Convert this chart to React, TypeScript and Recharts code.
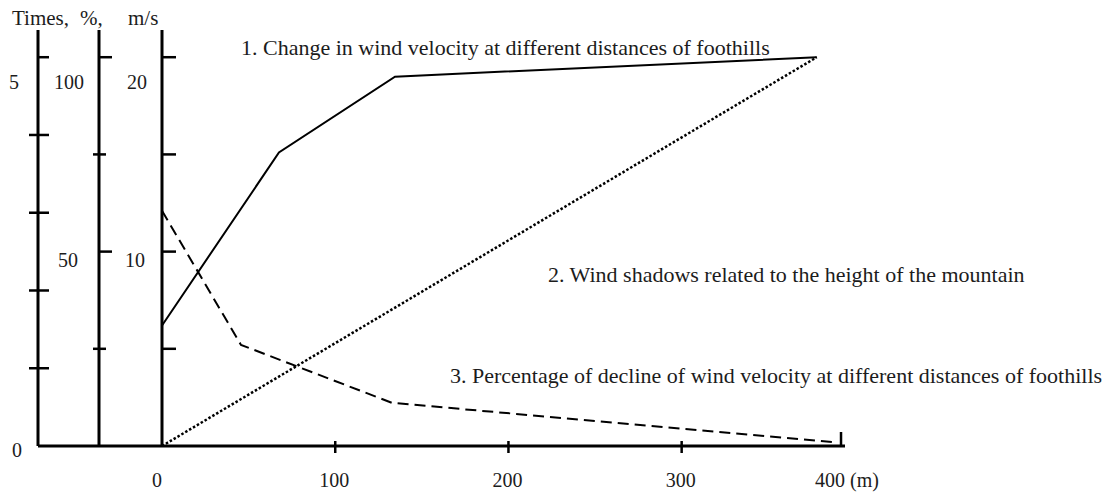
import { ComposedChart, Line, XAxis, YAxis } from 'recharts'

const FONT = "'Liberation Serif', 'Times New Roman', Times, serif"
const INK = '#000'
const TEXT = '#1c1c1c'

// distance from the foothills, m
const velocityDist = [0, 67.5, 134.5, 378]
const velocityMs = [6.2, 15.1, 19.0, 20.0]

const shadowDist = [0, 378]
const shadowTimes = [0, 5]

const declineDist = [0, 45.6, 132.8, 387]
const declinePct = [60.5, 26.0, 11.1, 1.0]

const distTicks = [0, 100, 200, 300, 392]
const distLabels = ['0', '100', '200', '300', '400 (m)']
const timesTicks = [0, 1, 2, 3, 4, 5]
const pctTicks = [0, 25, 50, 75, 100]
const msTicks = [0, 5, 10, 15, 20]

const notes = [
  { text: '1. Change in wind velocity at different distances of foothills', x: 241, y: 55 },
  { text: '2. Wind shadows related to the height of the mountain', x: 548, y: 282 },
  { text: '3. Percentage of decline of wind velocity at different distances of foothills', x: 450, y: 383 },
]

const velocityData = velocityDist.map((d, i) => ({ d, v: velocityMs[i] }))
const shadowData = shadowDist.map((d, i) => ({ d, v: shadowTimes[i] }))
const declineData = declineDist.map((d, i) => ({ d, v: declinePct[i] }))

function tickLabel(x: number, y: number, text: string) {
  return (
    <text x={x} y={y} textAnchor="middle" dominantBaseline="central" fontSize={20} fontFamily={FONT} fill={TEXT}>
      {text}
    </text>
  )
}

function TimesTick({ x, y, payload }: any) {
  const v = payload.value
  return (
    <g>
      {v > 0 && <line x1={v === 5 ? x : x - 9} x2={x + 11} y1={y} y2={y} stroke={INK} strokeWidth={2.5} />}
      {v === 5 && tickLabel(x - 24, y + 25, '5')}
      {v === 0 && tickLabel(x - 21, y + 4, '0')}
    </g>
  )
}

function PctTick({ x, y, payload }: any) {
  const v = payload.value
  const major = v === 50 || v === 100
  return (
    <g>
      {v > 0 && <line x1={major ? x : x - 6} x2={major ? x + 13 : x + 7} y1={y} y2={y} stroke={INK} strokeWidth={2.5} />}
      {v === 100 && tickLabel(x - 30, y + 25, '100')}
      {v === 50 && tickLabel(x - 31, y + 8, '50')}
    </g>
  )
}

function MsTick({ x, y, payload }: any) {
  const v = payload.value
  return (
    <g>
      {v > 0 && <line x1={x} x2={x + 14} y1={y} y2={y} stroke={INK} strokeWidth={2.5} />}
      {v === 20 && tickLabel(x - 25, y + 25, '20')}
      {v === 10 && tickLabel(x - 27, y + 8, '10')}
    </g>
  )
}

function DistTick({ x, y, payload, index }: any) {
  const v = payload.value
  const last = index === distTicks.length - 1
  return (
    <g>
      {v > 0 && !last && <line x1={x} x2={x} y1={y - 5} y2={y + 7} stroke={INK} strokeWidth={2.5} />}
      {last && <line x1={x} x2={x} y1={y - 14} y2={y} stroke={INK} strokeWidth={2.5} />}
      <text
        x={last ? x - 26 : v === 0 ? x - 5 : x - 1}
        y={y + 41}
        textAnchor={last ? 'start' : 'middle'}
        fontSize={20}
        fontFamily={FONT}
        fill={TEXT}
      >
        {distLabels[index]}
      </text>
    </g>
  )
}

const axisTitle = (text: string, dx: number) => (props: any) => {
  const vb = props.viewBox
  return (
    <text x={vb.x + dx} y={vb.y - 5} fontSize={21} fontFamily={FONT} fill={TEXT}>
      {text}
    </text>
  )
}

const axisLine = { stroke: INK, strokeWidth: 3 }

export default function App() {
  return (
    <div style={{ position: 'absolute', left: 0, top: 0, background: '#fff' }}>
      <ComposedChart width={1113} height={496} margin={{ top: 30, right: 268, bottom: 0, left: 38 }}>
        <XAxis
          xAxisId="d"
          type="number"
          dataKey="d"
          domain={[-71.6, 394.3]}
          allowDataOverflow
          ticks={distTicks}
          interval={0}
          height={50}
          tickSize={0}
          tickMargin={0}
          tickLine={false}
          axisLine={axisLine}
          tick={<DistTick />}
        />
        {/* mirrored axes stack inward from the left edge, ordered by id */}
        <YAxis
          yAxisId="a_times"
          mirror
          width={61}
          type="number"
          domain={[0, 5.35]}
          allowDataOverflow
          ticks={timesTicks}
          interval={0}
          tickSize={0}
          tickMargin={0}
          tickLine={false}
          axisLine={axisLine}
          tick={<TimesTick />}
          label={axisTitle('Times,', -26)}
        />
        <YAxis
          yAxisId="b_pct"
          mirror
          width={63}
          type="number"
          domain={[0, 107]}
          allowDataOverflow
          ticks={pctTicks}
          interval={0}
          tickSize={0}
          tickMargin={0}
          tickLine={false}
          axisLine={axisLine}
          tick={<PctTick />}
          label={axisTitle('%,', -19)}
        />
        <YAxis
          yAxisId="c_ms"
          mirror
          width={60}
          type="number"
          domain={[0, 21.4]}
          allowDataOverflow
          ticks={msTicks}
          interval={0}
          tickSize={0}
          tickMargin={0}
          tickLine={false}
          axisLine={axisLine}
          tick={<MsTick />}
          label={axisTitle('m/s', -34)}
        />
        <Line
          data={velocityData}
          xAxisId="d"
          yAxisId="c_ms"
          dataKey="v"
          type="linear"
          stroke={INK}
          strokeWidth={2}
          dot={false}
          isAnimationActive={false}
        />
        <Line
          data={shadowData}
          xAxisId="d"
          yAxisId="a_times"
          dataKey="v"
          type="linear"
          stroke={INK}
          strokeWidth={2.5}
          strokeDasharray="2.5 2"
          dot={false}
          isAnimationActive={false}
        />
        <Line
          data={declineData}
          xAxisId="d"
          yAxisId="b_pct"
          dataKey="v"
          type="linear"
          stroke={INK}
          strokeWidth={2}
          strokeDasharray="11 6"
          dot={false}
          isAnimationActive={false}
        />
        <g>
          {notes.map(n => (
            <text key={n.text} x={n.x} y={n.y} fontSize={22} fontFamily={FONT} fill={TEXT}>
              {n.text}
            </text>
          ))}
        </g>
      </ComposedChart>
    </div>
  )
}
